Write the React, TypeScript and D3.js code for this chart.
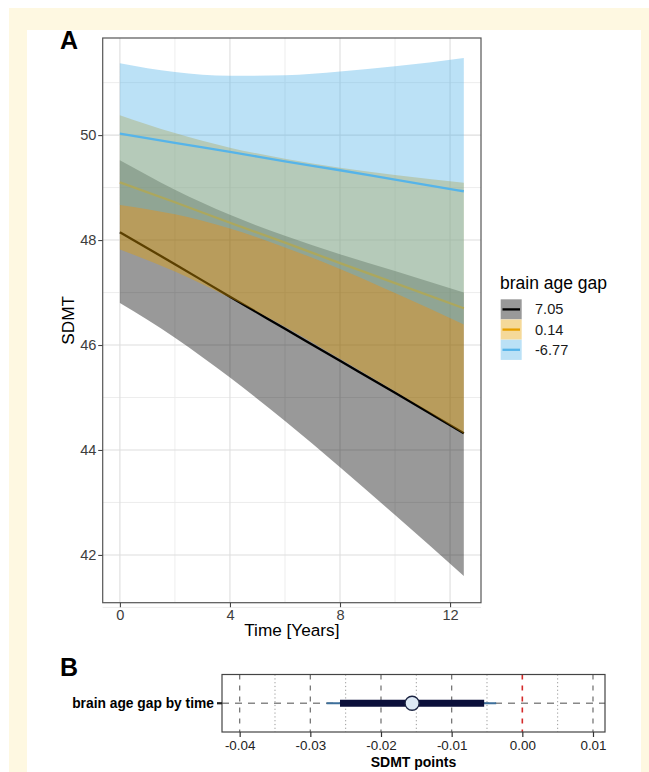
import React, { useRef, useEffect } from 'react';
import * as d3 from 'd3';

// panel A: predicted SDMT over time at three brain age gap values
const years = [0, 2, 4, 6, 8, 10, 12.5];
const gapLevels = ['7.05', '0.14', '-6.77'];
const gapColors = ['#000000', '#E69F00', '#56B4E9'];

const fitHigh = [48.15, 47.54, 46.92, 46.31, 45.7, 45.09, 44.32];
const lowHigh = [46.8, 46.14, 45.38, 44.55, 43.67, 42.76, 41.6];
const upHigh = [49.52, 48.96, 48.48, 48.08, 47.73, 47.41, 47.0];

const fitMid = [49.1, 48.72, 48.33, 47.95, 47.56, 47.18, 46.7];
const lowMid = [47.82, 47.4, 46.9, 46.35, 45.74, 45.12, 44.31];
const upMid = [50.38, 50.04, 49.76, 49.55, 49.38, 49.24, 49.09];

const fitLow = [50.03, 49.85, 49.68, 49.5, 49.33, 49.15, 48.93];
const lowLow = [48.67, 48.49, 48.22, 47.86, 47.45, 46.99, 46.39];
const upLow = [51.37, 51.2, 51.13, 51.14, 51.21, 51.31, 51.47];

const xTicksA = [0, 4, 8, 12];
const xMinorA = [2, 6, 10];
const yTicksA = [42, 44, 46, 48, 50];
const yMinorA = [41, 43, 45, 47, 49, 51];

// panel B: coefficient plot
const termLabel = 'brain age gap by time';
const estimate = -0.0156;
const outerCI = [-0.0277, -0.0037];
const innerCI = [-0.0258, -0.0054];
const xTicksB = [-0.04, -0.03, -0.02, -0.01, 0, 0.01];
const xMinorB = [-0.035, -0.025, -0.015, -0.005, 0.005];

const W = 649;
const H = 772;
const font = "'Liberation Sans', Arial, Helvetica, sans-serif";

export default function App() {
  const svgRef = useRef<SVGSVGElement>(null);

  useEffect(() => {
    const svg = d3.select(svgRef.current);
    svg.selectAll('*').remove();

    // page frame
    svg.append('rect').attr('x', 9).attr('y', 8).attr('width', W).attr('height', H).attr('fill', '#fef8e1');
    svg.append('rect').attr('x', 27).attr('y', 30).attr('width', 614).attr('height', H).attr('fill', '#ffffff');

    // ---------- panel A ----------
    const pA = { left: 102.7, right: 481, top: 38, bottom: 602.7 };
    const x = d3.scaleLinear().domain([-0.625, 13.125]).range([pA.left, pA.right]);
    const y = d3.scaleLinear().domain([41.09, 51.85]).range([pA.bottom, pA.top]);

    const grid = svg.append('g');
    xMinorA.forEach(v => grid.append('line').attr('x1', x(v)).attr('x2', x(v)).attr('y1', pA.top).attr('y2', pA.bottom)
      .attr('stroke', '#ebebeb').attr('stroke-width', 0.9));
    yMinorA.forEach(v => grid.append('line').attr('y1', y(v)).attr('y2', y(v)).attr('x1', pA.left).attr('x2', pA.right)
      .attr('stroke', '#ebebeb').attr('stroke-width', 0.9));
    xTicksA.forEach(v => grid.append('line').attr('x1', x(v)).attr('x2', x(v)).attr('y1', pA.top).attr('y2', pA.bottom)
      .attr('stroke', '#dedede').attr('stroke-width', 1.1));
    yTicksA.forEach(v => grid.append('line').attr('y1', y(v)).attr('y2', y(v)).attr('x1', pA.left).attr('x2', pA.right)
      .attr('stroke', '#dedede').attr('stroke-width', 1.1));

    const series = [
      { fit: fitHigh, lo: lowHigh, hi: upHigh },
      { fit: fitMid, lo: lowMid, hi: upMid },
      { fit: fitLow, lo: lowLow, hi: upLow },
    ];

    const area = d3.area<number>()
      .x(i => x(years[i]))
      .curve(d3.curveMonotoneX);
    const line = d3.line<number>()
      .x(i => x(years[i]))
      .curve(d3.curveMonotoneX);
    const idx = years.map((_, i) => i);

    // each group: ribbon then its line, so later ribbons tint earlier lines
    const marks = svg.append('g');
    series.forEach((s, k) => {
      marks.append('path')
        .attr('d', area.y0(i => y(s.lo[i])).y1(i => y(s.hi[i]))(idx))
        .attr('fill', gapColors[k])
        .attr('fill-opacity', 0.4);
      marks.append('path')
        .attr('d', line.y(i => y(s.fit[i]))(idx))
        .attr('fill', 'none')
        .attr('stroke', gapColors[k])
        .attr('stroke-width', 2.3);
    });

    svg.append('rect')
      .attr('x', pA.left).attr('y', pA.top)
      .attr('width', pA.right - pA.left).attr('height', pA.bottom - pA.top)
      .attr('fill', 'none').attr('stroke', '#555').attr('stroke-width', 1.2);

    const xAxis = svg.append('g')
      .attr('transform', `translate(0,${pA.bottom})`)
      .call(d3.axisBottom(x).tickValues(xTicksA).tickSize(4.5).tickPadding(2.5).tickSizeOuter(0));
    const yAxis = svg.append('g')
      .attr('transform', `translate(${pA.left},0)`)
      .call(d3.axisLeft(y).tickValues(yTicksA).tickSize(4.5).tickPadding(1.8).tickSizeOuter(0));
    [xAxis, yAxis].forEach(a => {
      a.select('.domain').remove();
      a.selectAll('line').attr('stroke', '#444').attr('stroke-width', 1.1);
      a.selectAll('text').attr('font-family', font).attr('font-size', 14.6).attr('fill', '#3d3d3d');
    });

    svg.append('text')
      .attr('x', (pA.left + pA.right) / 2).attr('y', 636)
      .attr('text-anchor', 'middle').attr('font-family', font).attr('font-size', 17.2)
      .text('Time [Years]');
    svg.append('text')
      .attr('transform', `translate(74,${(pA.top + pA.bottom) / 2}) rotate(-90)`)
      .attr('text-anchor', 'middle').attr('font-family', font).attr('font-size', 17.2)
      .text('SDMT');

    svg.append('text').attr('x', 60).attr('y', 49)
      .attr('font-family', font).attr('font-weight', 'bold').attr('font-size', 25).text('A');

    // legend
    const leg = svg.append('g');
    leg.append('text').attr('x', 500).attr('y', 289)
      .attr('font-family', font).attr('font-size', 17.5).text('brain age gap');
    gapLevels.forEach((lab, k) => {
      const ky = 299.3 + k * 20.2;
      leg.append('rect').attr('x', 500.7).attr('y', ky).attr('width', 21).attr('height', 20.2).attr('fill', '#fff');
      leg.append('rect').attr('x', 500.7).attr('y', ky).attr('width', 21).attr('height', 20.2)
        .attr('fill', gapColors[k]).attr('fill-opacity', 0.4);
      leg.append('line').attr('x1', 502.5).attr('x2', 520).attr('y1', ky + 10.1).attr('y2', ky + 10.1)
        .attr('stroke', gapColors[k]).attr('stroke-width', 2.3);
      leg.append('text').attr('x', 535).attr('y', ky + 15)
        .attr('font-family', font).attr('font-size', 14.6).attr('fill', '#1a1a1a').text(lab);
    });

    // ---------- panel B ----------
    const pB = { left: 222, right: 605, top: 674.5, bottom: 732 };
    const xb = d3.scaleLinear().domain([-0.0425, 0.0117]).range([pB.left, pB.right]);
    const cy = (pB.top + pB.bottom) / 2;

    svg.append('text').attr('x', 60).attr('y', 676)
      .attr('font-family', font).attr('font-weight', 'bold').attr('font-size', 25).text('B');

    const gB = svg.append('g');
    xMinorB.forEach(v => gB.append('line').attr('x1', xb(v)).attr('x2', xb(v)).attr('y1', pB.top).attr('y2', pB.bottom)
      .attr('stroke', '#999').attr('stroke-width', 1).attr('stroke-dasharray', '1.2,2.6'));
    xTicksB.forEach(v => gB.append('line').attr('x1', xb(v)).attr('x2', xb(v)).attr('y1', pB.top).attr('y2', pB.bottom)
      .attr('stroke', v === 0 ? '#d42a2a' : '#777')
      .attr('stroke-width', v === 0 ? 1.6 : 1.3)
      .attr('stroke-dasharray', '5,6'));
    gB.append('line').attr('x1', pB.left).attr('x2', pB.right).attr('y1', cy).attr('y2', cy)
      .attr('stroke', '#888').attr('stroke-width', 1.5).attr('stroke-dasharray', '7,6');

    gB.append('line').attr('x1', xb(outerCI[0])).attr('x2', xb(outerCI[1])).attr('y1', cy).attr('y2', cy)
      .attr('stroke', '#3d6f9b').attr('stroke-width', 2);
    gB.append('line').attr('x1', xb(innerCI[0])).attr('x2', xb(innerCI[1])).attr('y1', cy).attr('y2', cy)
      .attr('stroke', '#0b0f3a').attr('stroke-width', 7);
    gB.append('circle').attr('cx', xb(estimate)).attr('cy', cy).attr('r', 7)
      .attr('fill', '#dde9f5').attr('stroke', '#1b2442').attr('stroke-width', 1.3);

    svg.append('rect')
      .attr('x', pB.left).attr('y', pB.top)
      .attr('width', pB.right - pB.left).attr('height', pB.bottom - pB.top)
      .attr('fill', 'none').attr('stroke', '#444').attr('stroke-width', 1.2);

    const xAxisB = svg.append('g')
      .attr('transform', `translate(0,${pB.bottom})`)
      .call(d3.axisBottom(xb).tickValues(xTicksB).tickSize(5).tickPadding(3).tickSizeOuter(0)
        .tickFormat(d3.format('.2f')));
    xAxisB.select('.domain').remove();
    xAxisB.selectAll('line').attr('stroke', '#333').attr('stroke-width', 1.2);
    xAxisB.selectAll('text').attr('font-family', font).attr('font-size', 13.4).attr('fill', '#222')
      .text(d => d3.format('.2f')(d as number).replace('−', '-'));

    svg.append('line').attr('x1', pB.left - 5).attr('x2', pB.left).attr('y1', cy).attr('y2', cy)
      .attr('stroke', '#222').attr('stroke-width', 2.2);
    svg.append('text').attr('x', pB.left - 8).attr('y', cy + 5)
      .attr('text-anchor', 'end').attr('font-family', font).attr('font-weight', 'bold').attr('font-size', 13.8)
      .text(termLabel);
    svg.append('text').attr('x', (pB.left + pB.right) / 2).attr('y', 767)
      .attr('text-anchor', 'middle').attr('font-family', font).attr('font-weight', 'bold').attr('font-size', 14)
      .text('SDMT points');
  }, []);

  return (
    <svg ref={svgRef} width={W} height={H}
      style={{ position: 'absolute', left: 0, top: 0, display: 'block', background: '#fff' }} />
  );
}
